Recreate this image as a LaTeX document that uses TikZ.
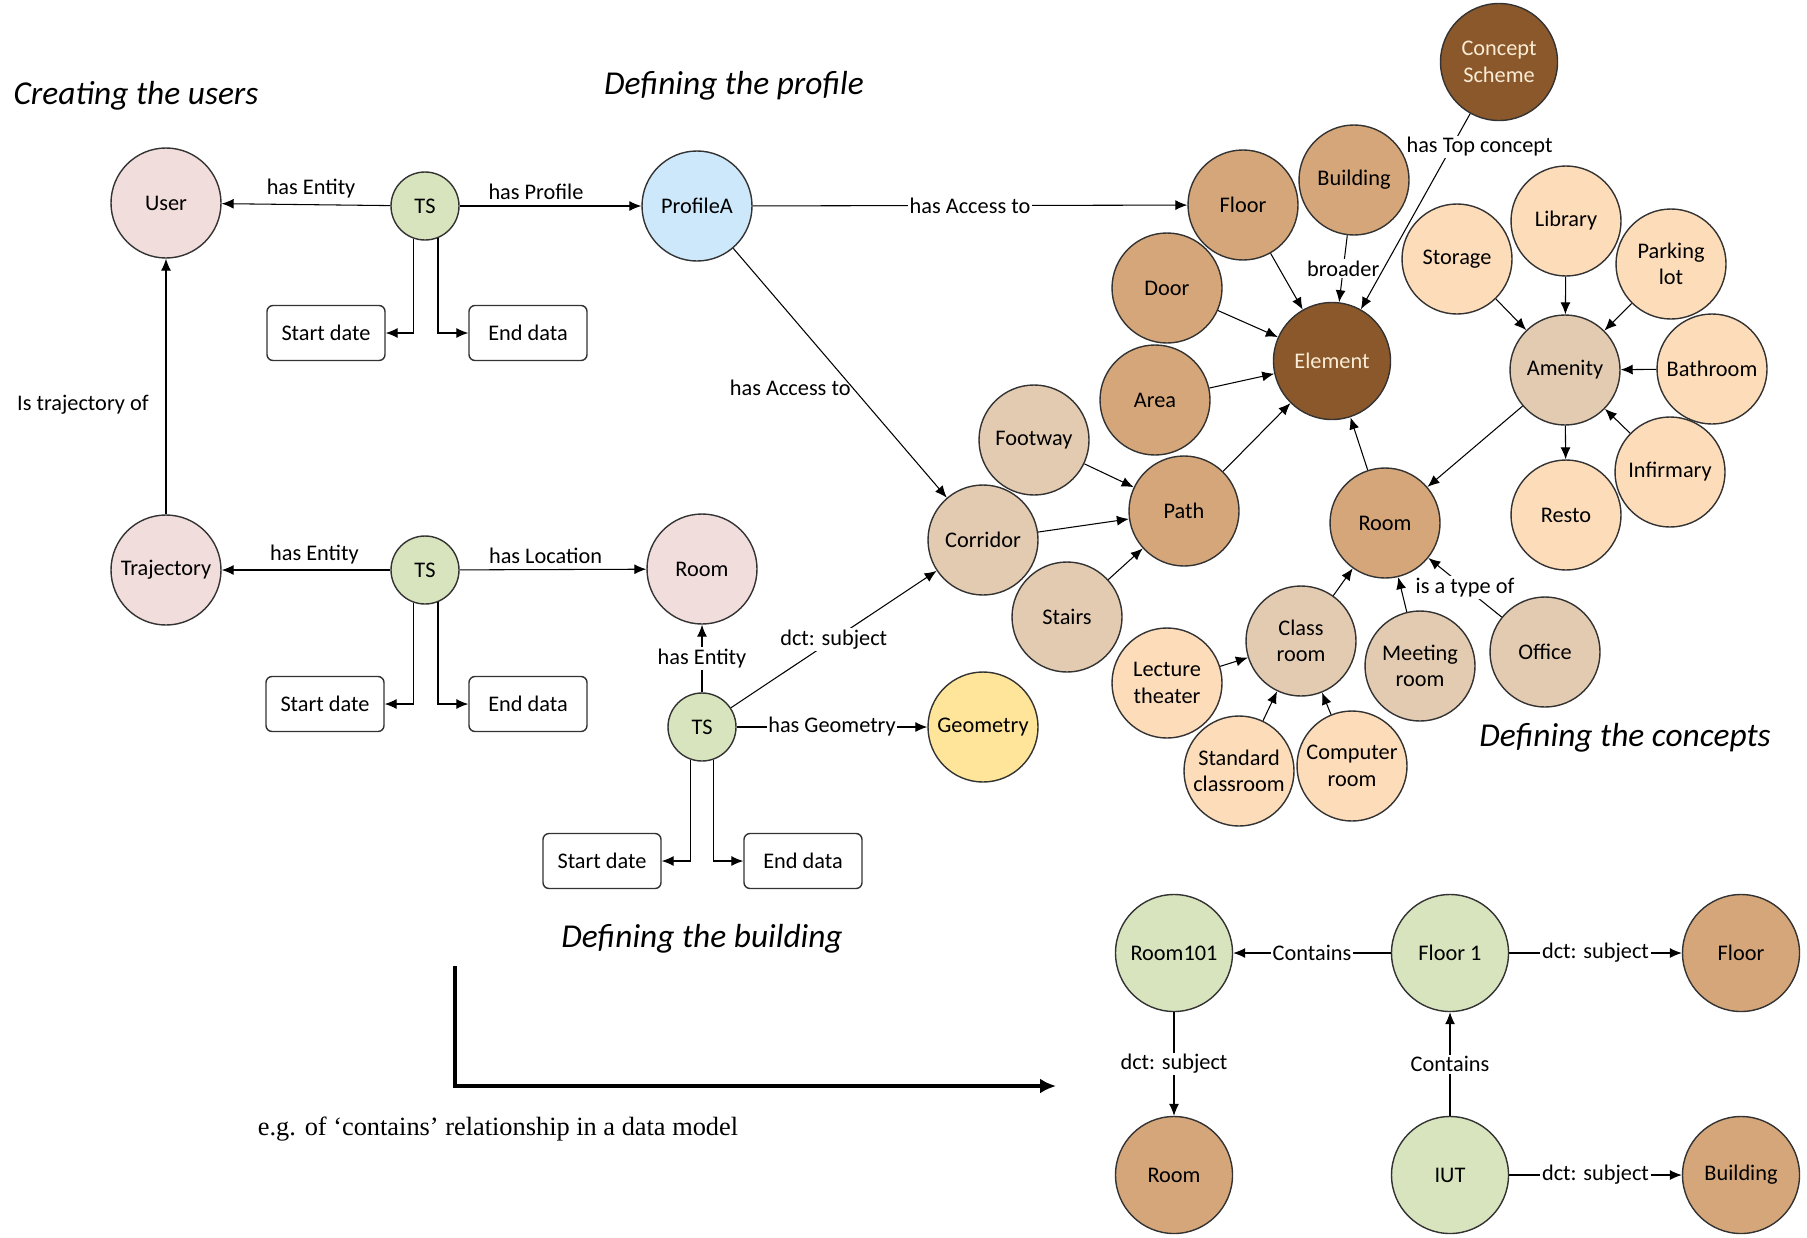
\documentclass[tikz,border=0pt]{standalone}
\usepackage{fontspec}
\setmainfont{Carlito}
\newfontfamily\capfont{Liberation Serif}
\usepackage{tikz}
\usetikzlibrary{arrows.meta}
\newcommand{\nodefont}{\fontsize{12.7}{15}\selectfont}
\newcommand{\grpfont}{\fontsize{19}{22}\selectfont\itshape}
\definecolor{pinkc}{RGB}{241,221,220}
\definecolor{tsgreen}{RGB}{215,228,189}
\definecolor{profblue}{RGB}{205,232,251}
\definecolor{geoyellow}{RGB}{255,229,153}
\definecolor{darkbrown}{RGB}{138,88,42}
\definecolor{midbrown}{RGB}{213,166,122}
\definecolor{lightbrown}{RGB}{227,203,177}
\definecolor{peach}{RGB}{253,220,186}
\definecolor{cream}{RGB}{250,236,214}
\tikzstyle{arrow}=[draw=black, line width=0.6pt, -{Latex[length=2.4mm, width=2mm]}]
\tikzstyle{line}=[draw=black, line width=0.6pt]
\tikzstyle{ent}=[circle, draw=black!80, line width=0.8pt, minimum size=22mm, inner sep=0pt, align=center, font=\nodefont]
\tikzstyle{big}=[minimum size=23.4mm]
\tikzstyle{ts}=[circle, draw=black!80, line width=0.8pt, fill=tsgreen, minimum size=13.6mm, inner sep=0pt, font=\nodefont]
\tikzstyle{datebox}=[rectangle, rounded corners=1.2mm, draw=black!80, line width=0.8pt, minimum width=23.6mm, minimum height=11mm, font=\nodefont]
\tikzstyle{elabel}=[fill=white, inner sep=1pt, font=\nodefont]
\tikzstyle{grp}=[font=\grpfont]

\begin{document}
\begin{tikzpicture}[x=0.2mm, y=-0.2mm]
	\useasboundingbox (0,0) rectangle (1807,1237);

	\node[grp] (t1) at (136,96) {Creating the users};
	\node[grp] (t2) at (734,86) {Defining the profile};
	\node[grp] (t3) at (702,939) {Defining the building};
	\node[grp] (t4) at (1625,738) {Defining the concepts};

	\node[ent, fill=pinkc] (user) at (166,203) {User};
	\node[ts] (ts1) at (425,206) {TS};
	\node[ent, fill=profblue] (profA) at (697,206) {ProfileA};
	\node[datebox] (sd1) at (326,333) {Start date};
	\node[datebox] (ed1) at (528,333) {End data};
	\node[ent, fill=pinkc] (traj) at (166,570) {Trajectory};
	\node[ts] (ts2) at (425,570) {TS};
	\node[ent, fill=pinkc] (roomP) at (702,569) {Room};
	\node[datebox] (sd2) at (325,704) {Start date};
	\node[datebox] (ed2) at (528,704) {End data};
	\node[ts] (ts3) at (702,727) {TS};
	\node[ent, fill=geoyellow] (geom) at (983,727) {Geometry};
	\node[datebox] (sd3) at (602,861) {Start date};
	\node[datebox] (ed3) at (803,861) {End data};

	\node[ent, fill=lightbrown] (corr) at (983,540) {Corridor};
	\node[ent, fill=lightbrown] (foot) at (1034,440) {Footway};
	\node[ent, fill=lightbrown] (stairs) at (1067,617) {Stairs};
	\node[ent, fill=midbrown] (path) at (1184,511) {Path};
	\node[ent, fill=midbrown] (area) at (1155,400) {Area};
	\node[ent, fill=midbrown] (door) at (1167,288) {Door};
	\node[ent, fill=midbrown] (floor) at (1243,205) {Floor};
	\node[ent, fill=midbrown] (bldg) at (1354,180) {Building};
	\node[ent, big, fill=darkbrown, text=cream] (elem) at (1332,361) {Element};
	\node[ent, big, fill=darkbrown, text=cream] (scheme) at (1499,62) {Concept\\Scheme};
	\node[ent, fill=peach] (stor) at (1457,259) {Storage};
	\node[ent, fill=peach] (lib) at (1566,221) {Library};
	\node[ent, fill=peach] (park) at (1671,264) {Parking\\lot};
	\node[ent, fill=lightbrown] (amen) at (1565,370) {Amenity};
	\node[ent, fill=peach] (bath) at (1712,369) {Bathroom};
	\node[ent, fill=peach] (infir) at (1670,472) {Infirmary};
	\node[ent, fill=peach] (resto) at (1566,515) {Resto};
	\node[ent, fill=midbrown] (roomC) at (1385,523) {Room};
	\node[ent, fill=lightbrown] (office) at (1545,652) {Office};
	\node[ent, fill=lightbrown] (meet) at (1420,666) {Meeting\\room};
	\node[ent, fill=lightbrown] (classR) at (1301,641) {Class\\room};
	\node[ent, fill=peach] (lect) at (1167,683) {Lecture\\theater};
	\node[ent, fill=peach] (std) at (1239,771) {Standard\\classroom};
	\node[ent, fill=peach] (comp) at (1352,766) {Computer\\room};

	\node[ent, big, fill=tsgreen] (r101) at (1174,953) {Room101};
	\node[ent, big, fill=tsgreen] (fl1) at (1450,953) {Floor 1};
	\node[ent, big, fill=midbrown] (flB) at (1741,953) {Floor};
	\node[ent, big, fill=midbrown] (rmB) at (1174,1175) {Room};
	\node[ent, big, fill=tsgreen] (iut) at (1450,1175) {IUT};
	\node[ent, big, fill=midbrown] (bdB) at (1741,1175) {Building};

	\draw[arrow] (ts1) -- node[above, font=\nodefont, pos=0.47] {has Entity} (user);
	\draw[arrow] (ts1) -- node[above, font=\nodefont, pos=0.42] {has Profile} (profA);
	\draw[arrow] (ts1.251) |- (sd1.east);
	\draw[arrow] (ts1.292) |- (ed1.west);
	\draw[arrow] (traj) -- node[left, font=\nodefont, xshift=-2.2mm, yshift=-3.6mm] {Is trajectory of} (user);
	\draw[arrow] (ts2) -- node[above, font=\nodefont, pos=0.45] {has Entity} (traj);
	\draw[arrow] (ts2) -- node[above, font=\nodefont, pos=0.46] {has Location} (roomP);
	\draw[arrow] (ts2.251) |- (sd2.east);
	\draw[arrow] (ts2.292) |- (ed2.west);
	\draw[arrow] (ts3) -- node[elabel] {has Entity} (roomP);
	\draw[arrow] (ts3) -- node[elabel] {dct: subject} (corr);
	\draw[arrow] (ts3) -- node[elabel] {has Geometry} (geom);
	\draw[arrow] (ts3.251) |- (sd3.east);
	\draw[arrow] (ts3.290) |- (ed3.west);
	\draw[arrow] (profA) -- node[elabel] {has Access to} (floor);
	\draw[arrow] (profA) -- node[pos=0.56, left, inner sep=1pt, font=\nodefont] {has Access to} (corr);

	\draw[arrow] (floor) -- (elem);
	\draw[arrow] (bldg) -- node[elabel] {broader} (elem);
	\draw[arrow] (scheme) -- node[elabel, pos=0.17, xshift=5.6mm] {has Top concept} (elem);
	\draw[arrow] (door) -- (elem);
	\draw[arrow] (area) -- (elem);
	\draw[arrow] (path) -- (elem);
	\draw[arrow] (roomC) -- (elem);
	\draw[arrow] (foot) -- (path);
	\draw[arrow] (corr) -- (path);
	\draw[arrow] (stairs) -- (path);
	\draw[arrow] (stor) -- (amen);
	\draw[arrow] (lib) -- (amen);
	\draw[arrow] (park) -- (amen);
	\draw[arrow] (bath) -- (amen);
	\draw[arrow] (infir) -- (amen);
	\draw[arrow] (amen) -- (resto);
	\draw[arrow] (amen) -- (roomC);
	\draw[arrow] (classR) -- (roomC);
	\draw[arrow] (meet) -- (roomC);
	\draw[arrow] (office) -- node[elabel] {is a type of} (roomC);
	\draw[arrow] (lect) -- (classR);
	\draw[arrow] (std) -- (classR);
	\draw[arrow] (comp) -- (classR);

	\draw[arrow] (fl1) -- node[elabel] {Contains} (r101);
	\draw[arrow] (fl1) -- node[elabel] {dct: subject} (flB);
	\draw[arrow] (r101) -- node[elabel] {dct: subject} (rmB);
	\draw[arrow] (iut) -- node[elabel] {Contains} (fl1);
	\draw[arrow] (iut) -- node[elabel] {dct: subject} (bdB);

	\coordinate (exA) at (455,966);
	\coordinate (exB) at (1056,1086);
	\draw[line width=1.8pt, -{Latex[length=3.2mm, width=3mm]}] (exA) |- (exB);
	\node[font=\capfont\fontsize{15}{18}\selectfont] (cap) at (498,1129) {e.g. of ‘contains’ relationship in a data model};
\end{tikzpicture}
\end{document}
